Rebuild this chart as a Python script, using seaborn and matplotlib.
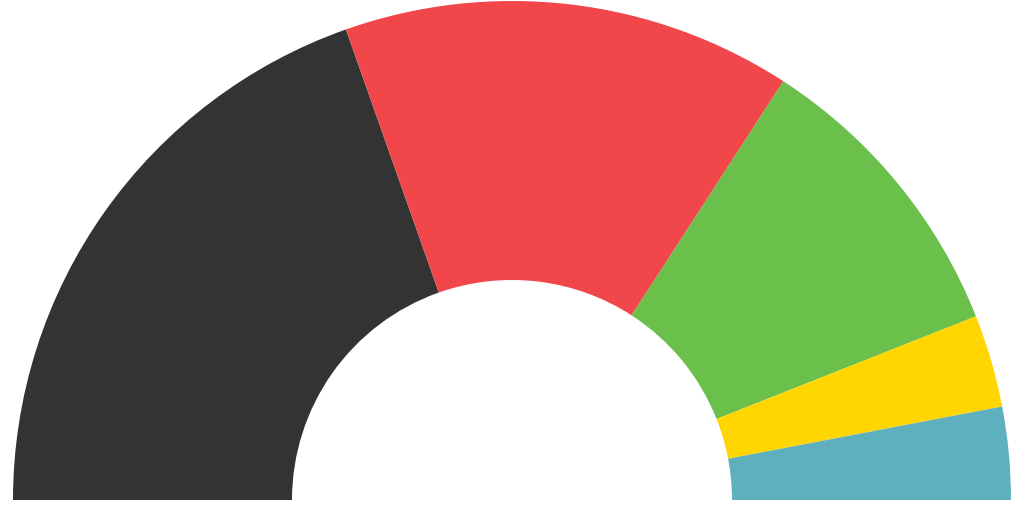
import matplotlib
matplotlib.use("Agg")
import matplotlib.pyplot as plt
import seaborn as sns

# seat shares, left to right across the half ring
parties = ["Black", "Red", "Green", "Yellow", "Blue"]
shares = [39.2, 29.1, 19.7, 6.0, 6.0]
colors = ["#333333", "#f2474a", "#6bbf4b", "#ffd600", "#5fb0bf"]

sns.set_theme(style="white")

fig = plt.figure(figsize=(10.24, 5.12), dpi=100)
ax = fig.add_axes([0, 0, 1, 1])

# hidden lower half so the visible wedges fill exactly 180 degrees
vals = shares + [sum(shares)]
cols = colors + ["none"]

wedges, _ = ax.pie(vals, colors=cols, startangle=180, counterclock=False,
                   radius=499, wedgeprops=dict(width=279, linewidth=0))
wedges[-1].set_visible(False)

ax.set_xlim(-512, 512)
ax.set_ylim(-12, 500)
ax.set_aspect("equal")
ax.axis("off")

fig.savefig("out.png", dpi=100, facecolor="white")
